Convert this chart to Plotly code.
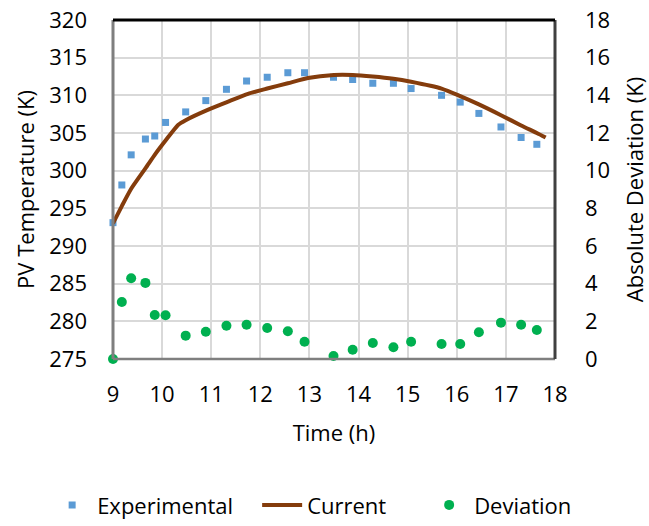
import plotly.graph_objects as go

# Data
time_h = [9.00, 9.18, 9.37, 9.66, 9.85, 10.07, 10.48, 10.89, 11.31, 11.72, 12.14, 12.56,
          12.90, 13.49, 13.88, 14.29, 14.71, 15.07, 15.69, 16.07, 16.45, 16.90, 17.31, 17.63]
experimental = [293.1, 298.1, 302.1, 304.2, 304.6, 306.4, 307.8, 309.3, 310.8, 311.9, 312.4, 313.0,
                313.0, 312.4, 312.1, 311.6, 311.6, 310.9, 310.0, 309.1, 307.6, 305.8, 304.4, 303.5]
deviation = [0.0, 3.03, 4.29, 4.04, 2.34, 2.32, 1.24, 1.45, 1.77, 1.82, 1.65, 1.47,
             0.92, 0.16, 0.49, 0.85, 0.62, 0.92, 0.80, 0.80, 1.42, 1.93, 1.82, 1.54]

time_current = [9.00, 9.18, 9.37, 9.66, 9.86, 10.07, 10.33, 10.48, 10.94, 11.32, 11.75, 12.14, 12.56,
                12.97, 13.50, 13.88, 14.29, 14.71, 15.07, 15.69, 16.07, 16.45, 16.89, 17.31, 17.63, 17.81]
current = [293.0, 295.3, 297.6, 300.3, 302.2, 304.0, 306.1, 306.7, 308.1, 309.1, 310.2, 310.9, 311.6,
           312.3, 312.7, 312.7, 312.5, 312.2, 311.8, 310.9, 309.9, 308.8, 307.4, 306.0, 305.0, 304.4]

x_ticks = list(range(9, 19))
y_ticks = list(range(275, 321, 5))
y2_ticks = list(range(0, 19, 2))

FONT = "Open Sans"
fig = go.Figure()

fig.add_trace(go.Scatter(
    x=time_h, y=experimental, name="Experimental", mode="markers", legendwidth=155,
    marker=dict(symbol="square", size=7, color="#5B9BD5"), cliponaxis=False))
fig.add_trace(go.Scatter(
    x=time_current, y=current, name="Current", mode="lines", legendwidth=112,
    line=dict(color="#843C0C", width=4, shape="spline", smoothing=0.6), cliponaxis=False))
fig.add_trace(go.Scatter(
    x=time_h, y=deviation, name="Deviation", mode="markers", yaxis="y2", legendwidth=108,
    marker=dict(symbol="circle", size=10, color="#00B050"), cliponaxis=False))

fig.update_layout(
    width=649, height=526,
    margin=dict(l=113, r=94, t=20, b=167, autoexpand=False),
    paper_bgcolor="white", plot_bgcolor="white",
    font=dict(family=FONT, size=22, color="#000000"),
    showlegend=True,
    legend=dict(orientation="h", x=-0.149, xanchor="left", y=-0.431, yanchor="middle",
                itemwidth=40, font=dict(size=22), bgcolor="rgba(0,0,0,0)"),
    xaxis=dict(range=[9, 18], tickvals=x_ticks, ticktext=[str(v) for v in x_ticks],
               showgrid=True, gridcolor="#D9D9D9", gridwidth=1.5, zeroline=False,
               ticks="", ticklabelstandoff=20, automargin=False,
               title=dict(text="Time (h)", standoff=18, font=dict(size=22))),
    yaxis=dict(range=[275, 320], tickvals=y_ticks, ticktext=[str(v) for v in y_ticks],
               showgrid=True, gridcolor="#D9D9D9", gridwidth=1.5, zeroline=False,
               ticks="", ticklabelstandoff=25, automargin=False,
               title=dict(text="PV Temperature (K)", standoff=8, font=dict(size=22))),
    yaxis2=dict(range=[0, 18], tickvals=y2_ticks, ticktext=[str(v) for v in y2_ticks],
                overlaying="y", side="right", showgrid=False, zeroline=False,
                ticks="", ticklabelstandoff=29, automargin=False,
                title=dict(text="Absolute Deviation (K)", standoff=19, font=dict(size=22))),
)

# plot frame
fig.add_shape(type="line", xref="paper", yref="paper", x0=0, x1=0, y0=0, y1=1,
              line=dict(color="#7F7F7F", width=3), layer="above")
fig.add_shape(type="line", xref="paper", yref="paper", x0=0, x1=1, y0=0, y1=0,
              line=dict(color="#7F7F7F", width=2.5), layer="above")
fig.add_shape(type="line", xref="paper", yref="paper", x0=1, x1=1, y0=0, y1=1,
              line=dict(color="#404040", width=3), layer="above")
fig.add_shape(type="line", xref="paper", yref="paper", x0=0, x1=1, y0=1, y1=1,
              line=dict(color="#000000", width=3), layer="above")

fig.write_html("out.html", config={"displayModeBar": False},
               post_script="document.body.style.margin='0px';")
